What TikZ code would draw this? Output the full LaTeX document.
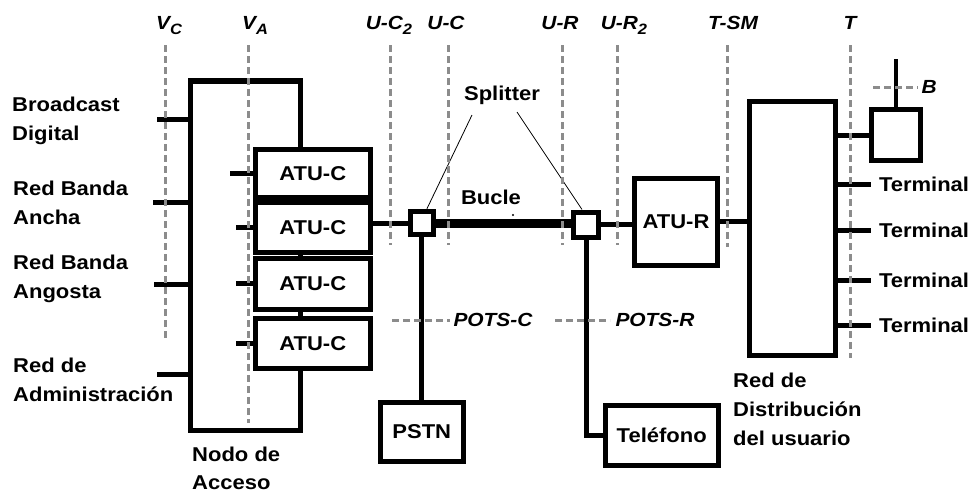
\documentclass[tikz,border=0pt]{standalone}
\usepackage{fontspec}
\setmainfont{Liberation Sans}[FakeStretch=1.1]
\newcommand{\subidx}[1]{\raisebox{-5pt}{\fontsize{15}{15}\selectfont #1}}
\begin{document}
\begin{tikzpicture}[x=1pt, y=-1pt,
	box/.style={draw, line width=5pt, fill=white, inner sep=0pt, font=\fontsize{20}{24}\selectfont\bfseries},
	link/.style={line width=5pt},
	iface/.style={draw=black!45, line width=3pt, dash pattern=on 7pt off 4pt},
	ref/.style={anchor=base, inner sep=0pt, font=\fontsize{19}{19}\selectfont\bfseries\itshape},
	lbl/.style={anchor=north west, inner sep=0pt, align=left, font=\fontsize{20}{29}\selectfont\bfseries}]

	\useasboundingbox (0,0) rectangle (977,493);

	\node[draw, line width=5.5pt, minimum width=110pt, minimum height=349.5pt, inner sep=0pt] (nodo) at (245.5,255.75) {};

	\node[box, minimum width=114.5pt, minimum height=48pt] (atuc1) at (312.75,173.5) {ATU-C};
	\node[box, minimum width=114.5pt, minimum height=50pt] (atuc2) at (312.75,227.5) {ATU-C};
	\node[box, minimum width=114.5pt, minimum height=51.5pt] (atuc3) at (312.75,283.75) {ATU-C};
	\node[box, minimum width=114.5pt, minimum height=50.5pt] (atuc4) at (312.75,343.25) {ATU-C};

	\node[box, minimum size=23.5pt] (sp1) at (421.75,223) {};
	\node[box, minimum size=25pt] (sp2) at (586,224.5) {};
	\node[box, minimum width=83pt, minimum height=87.5pt] (atur) at (676,221.75) {ATU-R};
	\node[box, minimum width=85.5pt, minimum height=254pt] (dist) at (792.25,228.5) {};
	\node[box, minimum width=49pt, minimum height=51pt] (bbox) at (896,135) {};
	\node[box, minimum width=83.5pt, minimum height=59pt] (pstn) at (421.75,432) {PSTN};
	\node[box, minimum width=112.5pt, minimum height=59.5pt] (tel) at (661.75,435.25) {Teléfono};

	\foreach \y/\l in {119/31, 202/35, 284/34, 374/31}
		\draw[link] (nodo.west |- 0,\y) -- ++(-\l,0);
	\foreach \n/\l in {atuc1/23, atuc2/17, atuc3/17, atuc4/17}
		\draw[link] (\n.west) -- ++(-\l,0);

	\draw[link] (atuc2.east |- sp1) -- (sp1.west);
	\draw[line width=9pt] (sp1.east) -- (sp1.east -| sp2.west);
	\draw[link] (sp2.east) -- (sp2.east -| atur.west);
	\draw[link] (atur.east) -- (atur.east -| dist.west);
	\draw[link] (sp1.south) -- (pstn.north);
	\draw[link] (sp2.south) |- (tel.west);
	\draw[link] (dist.east |- bbox.west) -- (bbox.west);
	\draw[line width=4pt] (bbox.north) -- ++(0,-48);
	\foreach \y [count=\i] in {184.5,230.5,280,325.5}
		\draw[link] (dist.east |- 0,\y) -- ++(33,0) node[lbl, anchor=west, xshift=6pt] (term\i) {Terminal};

	\node[lbl] (bcast) at (12,97) {Broadcast\\Digital};
	\node[lbl] (rancha) at (13,181) {Red Banda\\Ancha};
	\node[lbl] (rangosta) at (13,255) {Red Banda\\Angosta};
	\node[lbl] (radmin) at (13,358) {Red de\\Administración};
	\node[lbl, font=\fontsize{20}{28}\selectfont\bfseries] (acceso) at (192,447) {Nodo de\\Acceso};
	\node[lbl] (rdist) at (733,373) {Red de\\Distribución\\del usuario};

	\node[font=\fontsize{20}{24}\selectfont\bfseries, inner sep=0pt] (split) at (502,95) {Splitter};
	\draw[line width=0.8pt] ([shift={(-30,20)}]split.center) -- (sp1.70);
	\draw[line width=0.8pt] ([shift={(15,17)}]split.center) -- (sp2.105);
	\node[font=\fontsize{20}{24}\selectfont\bfseries, inner sep=0pt] (bucle) at (491,197) {Bucle};
	\fill (513,215) circle (1.2pt);

	\foreach \x/\l/\e/\t [count=\i] in {165/169/338/{V\subidx{C}}, 248/255/423/{V\subidx{A}}, 390/389/245/{U-C\subidx{2}}, 448/446/245/{U-C}, 562/560/245/{U-R}, 617/624/245/{U-R\subidx{2}}, 727/733/247/{T-SM}, 850/850/358/{T}}{
		\node[ref] (ref\i) at (\l,29) {\t};
		\draw[iface] (\x,45) -- (\x,\e);
	}
	\draw[iface] (392,320) -- (450,320) node[ref, anchor=west, xshift=2pt] (potsc) {POTS-C};
	\draw[iface] (555,320) -- (610,320) node[ref, anchor=west, xshift=4pt] (potsr) {POTS-R};
	\draw[iface] (873,87) -- (918,87) node[ref, anchor=west, xshift=2pt] (bref) {B};

\end{tikzpicture}
\end{document}
